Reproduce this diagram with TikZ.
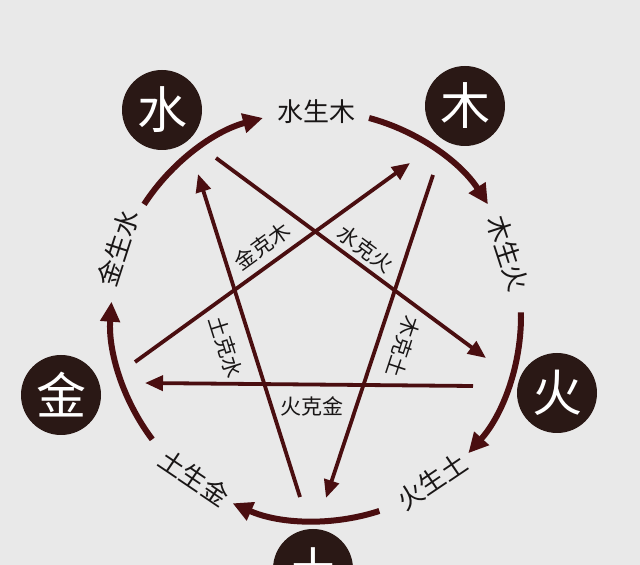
\documentclass[tikz,border=0pt]{standalone}
\usepackage{fontspec}
\newfontfamily\cjk{Noto Sans CJK SC}
\usetikzlibrary{arrows.meta}
\definecolor{bg}{RGB}{233,233,233}
\definecolor{arr}{RGB}{74,14,16}
\definecolor{dot}{RGB}{42,24,21}
\definecolor{ink}{RGB}{25,22,22}
\begin{document}
\begin{tikzpicture}[x=1pt,y=1pt,
  elem/.style={circle, fill=dot, minimum size=80pt, inner sep=0pt, text=white, font=\cjk\fontsize{50}{50}\selectfont},
  sheng/.style={font=\cjk\fontsize{26}{26}\selectfont, text=ink, inner sep=0pt},
  ke/.style={font=\cjk\fontsize{21}{21}\selectfont, text=ink, inner sep=0pt},
  arcarrow/.style={draw=arr, line width=6pt, -{Triangle[length=20pt,width=19pt]}},
  kearrow/.style={draw=arr, line width=3.8pt, -{Triangle[length=18pt,width=15pt]}}]
\fill[bg] (0,0) rectangle (640,565);
\useasboundingbox (0,0) rectangle (640,565);
\clip (0,0) rectangle (640,565);
\coordinate (C) at (316,249);
% generating cycle arcs
\draw[arcarrow] ([shift={(147:205)}]C) arc[start angle=147, end angle=105, radius=205];
\draw[arcarrow] ([shift={(75:205)}]C) arc[start angle=75, end angle=33, radius=205];
\draw[arcarrow] ([shift={(1:205)}]C) arc[start angle=1, end angle=-42, radius=205];
\draw[arcarrow] ([shift={(-72:205)}]C) arc[start angle=-72, end angle=-114, radius=205];
\draw[arcarrow] ([shift={(217:205)}]C) arc[start angle=217, end angle=176, radius=205];
% generating labels
\node[sheng] (smm) at ([shift={(90:204)}]C) {水生木};
\node[sheng, rotate=-72] (smh) at ([shift={(18:202)}]C) {木生火};
\node[sheng, rotate=34] (sht) at ([shift={(-55:202)}]C) {火生土};
\node[sheng, rotate=-34] (stj) at ([shift={(-127:202)}]C) {土生金};
\node[sheng, rotate=72] (sjs) at ([shift={(161:209)}]C) {金生水};
% elements
\node[elem] (shui) at (162,455) {水};
\node[elem] (mu) at (465,459) {木};
\node[elem] (huo) at (557,172) {火};
\node[elem] (jin) at (61,170) {金};
\node[elem] (tu) at (313,-4) {土};
% overcoming star
\coordinate (k1s) at (135,203); \coordinate (k1t) at (410,402);
\coordinate (k2s) at (433,390); \coordinate (k2t) at (326,67);
\coordinate (k3s) at (300,68);  \coordinate (k3t) at (198,391);
\coordinate (k4s) at (216,407); \coordinate (k4t) at (486,207);
\coordinate (k5s) at (473,179); \coordinate (k5t) at (145,182);
\draw[kearrow] (k1s) -- (k1t);
\draw[kearrow] (k2s) -- (k2t);
\draw[kearrow] (k3s) -- (k3t);
\draw[kearrow] (k4s) -- (k4t);
\draw[kearrow] (k5s) -- (k5t);
\node[ke, rotate=36] (kjm) at (262,319) {金克木};
\node[ke, rotate=-36.5] (ksh) at (366,316) {水克火};
\node[ke, rotate=-72.5] (kts) at (226,218) {土克水};
\node[ke, rotate=-108.3] (kmt) at (403,218) {木克土};
\node[ke] (khj) at (312,159) {火克金};
\end{tikzpicture}
\end{document}
